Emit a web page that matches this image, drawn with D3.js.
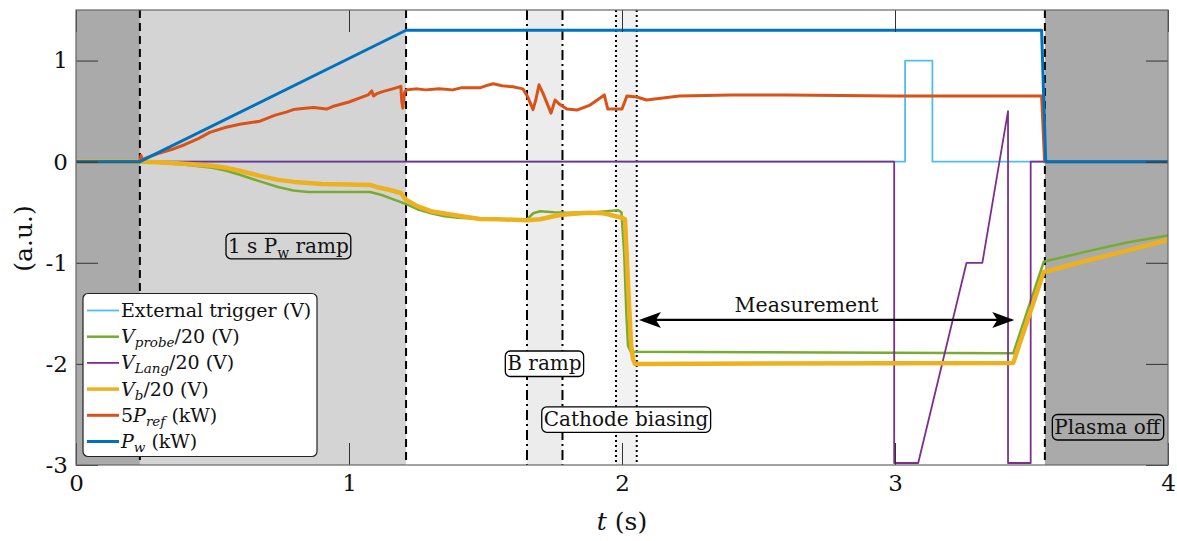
<!DOCTYPE html>
<html><head><meta charset="utf-8">
<script src="https://cdn.jsdelivr.net/npm/d3@7/dist/d3.min.js"></script>
<style>
body{margin:0;background:#fff;}
svg{display:block;}
text{font-family:"DejaVu Serif",serif;fill:#111;}
</style></head><body>
<svg id="c" width="1177" height="541"></svg>
<script>
// ---------- data ----------
const xTicks = [0, 1, 2, 3, 4];
const yTicks = [-3, -2, -1, 0, 1];

// External trigger (V)
const trigT = [0, 3.037, 3.037, 3.137, 3.137, 4];
const trigV = [0, 0, 1, 1, 0, 0];

// V_probe / 20 (V)
const probeT = [0, 0.234, 0.3, 0.4, 0.5, 0.55, 0.6, 0.674, 0.74, 0.796, 0.85, 0.918, 1.0, 1.077, 1.12, 1.16, 1.21, 1.25, 1.3, 1.35, 1.4, 1.5, 1.6, 1.652, 1.675, 1.7, 1.75, 1.8, 1.9, 1.985, 1.998, 2.008, 2.016, 2.022, 2.032, 3.433, 3.545, 3.552, 3.7, 3.85, 4];
const probeV = [0, 0, -0.01, -0.03, -0.06, -0.09, -0.13, -0.195, -0.25, -0.285, -0.3, -0.3, -0.3, -0.3, -0.33, -0.37, -0.42, -0.47, -0.51, -0.54, -0.555, -0.57, -0.575, -0.57, -0.51, -0.49, -0.5, -0.505, -0.5, -0.48, -0.5, -0.9, -1.5, -1.82, -1.88, -1.895, -0.99, -0.985, -0.89, -0.8, -0.73];

// V_Lang / 20 (V)
const langT = [0, 2.997, 2.997, 3.085, 3.262, 3.32, 3.414, 3.414, 3.497, 3.497, 4];
const langV = [0, 0, -2.98, -2.98, -1, -1, 0.5, -2.98, -2.98, 0, 0];

// V_b / 20 (V)
const vbT = [0, 0.234, 0.3, 0.4, 0.5, 0.55, 0.6, 0.674, 0.74, 0.8, 0.9, 1.0, 1.077, 1.1, 1.15, 1.19, 1.21, 1.25, 1.3, 1.4, 1.48, 1.55, 1.652, 1.7, 1.75, 1.78, 1.85, 1.883, 1.93, 1.948, 2.0, 2.011, 2.022, 2.033, 2.04, 2.048, 3.433, 3.545, 3.552, 3.7, 3.85, 4];
const vbV = [0, 0, -0.005, -0.02, -0.04, -0.06, -0.09, -0.14, -0.18, -0.2, -0.22, -0.225, -0.23, -0.25, -0.28, -0.31, -0.38, -0.44, -0.49, -0.535, -0.567, -0.57, -0.58, -0.57, -0.54, -0.525, -0.51, -0.505, -0.51, -0.52, -0.555, -0.57, -1.2, -1.8, -1.95, -2.0, -1.99, -1.09, -1.086, -0.98, -0.88, -0.773];

// 5 P_ref (kW)
const prefT = [0, 0.234, 0.238, 0.243, 0.26, 0.3, 0.35, 0.4, 0.45, 0.49, 0.55, 0.6, 0.674, 0.73, 0.77, 0.796, 0.83, 0.87, 0.918, 0.94, 0.96, 1.0, 1.04, 1.07, 1.083, 1.09, 1.1, 1.12, 1.16, 1.19, 1.193, 1.197, 1.203, 1.21, 1.25, 1.28, 1.33, 1.38, 1.41, 1.45, 1.48, 1.5, 1.528, 1.56, 1.6, 1.637, 1.655, 1.674, 1.685, 1.696, 1.71, 1.74, 1.755, 1.77, 1.798, 1.835, 1.883, 1.92, 1.935, 1.948, 2.0, 2.018, 2.054, 2.09, 2.15, 2.21, 2.4, 2.6, 2.8, 3.0, 3.2, 3.4, 3.537, 3.548, 4];
const prefV = [0, 0, 0.06, 0.02, 0.04, 0.08, 0.12, 0.17, 0.23, 0.29, 0.34, 0.37, 0.4, 0.46, 0.49, 0.515, 0.525, 0.535, 0.52, 0.545, 0.56, 0.59, 0.63, 0.66, 0.7, 0.65, 0.67, 0.69, 0.72, 0.745, 0.6, 0.53, 0.68, 0.71, 0.72, 0.71, 0.72, 0.71, 0.73, 0.73, 0.73, 0.75, 0.77, 0.75, 0.74, 0.72, 0.64, 0.515, 0.62, 0.76, 0.68, 0.48, 0.61, 0.57, 0.52, 0.51, 0.56, 0.63, 0.66, 0.52, 0.52, 0.65, 0.64, 0.61, 0.63, 0.65, 0.66, 0.66, 0.655, 0.65, 0.65, 0.65, 0.65, 0, 0];

// P_w (kW)
const pwT = [0, 0.234, 1.209, 3.537, 3.552, 4];
const pwV = [0, 0, 1.3, 1.3, 0, 0];

// shaded phases (s)
const phaseStart = [0, 3.549, 0.234, 1.652, 1.978];
const phaseEnd   = [0.234, 4, 1.209, 1.782, 2.054];
// event markers (s)
const dashedT  = [0.234, 1.209, 3.549];
const dashDotT = [1.652, 1.782];
const dottedT  = [1.978, 2.054];

// annotations (data coordinates)
const annText = ["1 s P_w ramp", "B ramp", "Cathode biasing", "Plasma off"];
const annT = [0.778, 1.716, 2.015, 3.777];
const annV = [-0.832, -1.996, -2.548, -2.624];
const measText = "Measurement";
const measT = [2.062, 3.437];
const measV = -1.565;

// ---------- drawing ----------
const svg = d3.select("#c");
const x = d3.scaleLinear().domain([0, 4]).range([76, 1168]);
const y = d3.scaleLinear().domain([-3, 1.5]).range([465, 10]);
const TL = 22;
const axCol = "#333";

svg.append("rect").attr("width", 1177).attr("height", 541).attr("fill", "#fff");
svg.append("clipPath").attr("id", "clip").append("rect")
  .attr("x", 76).attr("y", 10).attr("width", 1092).attr("height", 455);
const plot = svg.append("g").attr("clip-path", "url(#clip)");

const phaseFill = ["#aaaaaa", "#aaaaaa", "#d4d4d4", "#ececec", "#f2f2f2"];
plot.selectAll("rect.phase").data(phaseStart).join("rect").attr("class", "phase")
  .attr("x", (d) => x(d)).attr("width", (d, i) => x(phaseEnd[i]) - x(d))
  .attr("y", y(1.5)).attr("height", y(-3) - y(1.5))
  .attr("fill", (d, i) => phaseFill[i]);

function vlines(arr, dash) {
  plot.selectAll(null).data(arr).join("line")
    .attr("x1", (d) => x(d)).attr("x2", (d) => x(d))
    .attr("y1", y(1.5)).attr("y2", y(-3))
    .attr("stroke", "#000").attr("stroke-width", 2).attr("stroke-dasharray", dash);
}
vlines(dashedT, "8,5");
vlines(dashDotT, "10,4,2,4");
vlines(dottedT, "2,3");

const series = [
  { t: trigT, v: trigV, c: "#4DBEEE", w: 1.8 },
  { t: probeT, v: probeV, c: "#77AC30", w: 2.5 },
  { t: langT, v: langV, c: "#7E2F8E", w: 1.8 },
  { t: vbT, v: vbV, c: "#EDB120", w: 4.5 },
  { t: prefT, v: prefV, c: "#D95319", w: 3 },
  { t: pwT, v: pwV, c: "#0072BD", w: 3 },
];
const line = d3.line().x((d) => x(d[0])).y((d) => y(d[1]));
series.forEach((s) => {
  plot.append("path").datum(s.t.map((t, i) => [t, s.v[i]]))
    .attr("d", line).attr("fill", "none").attr("stroke", s.c)
    .attr("stroke-width", s.w).attr("stroke-linejoin", "round");
});

// axes
function styleAxis(g) {
  g.select(".domain").remove();
  g.selectAll(".tick line").attr("stroke", axCol).attr("stroke-width", 1);
  g.selectAll(".tick text").attr("fill", "#222").style("font-size", "23px")
    .style("font-family", '"DejaVu Serif",serif');
}
svg.append("g").attr("transform", "translate(0,465)")
  .call(d3.axisBottom(x).tickValues(xTicks).tickSize(-TL).tickPadding(10).tickFormat((d) => String(d)))
  .call(styleAxis);
svg.append("g").attr("transform", "translate(76,0)")
  .call(d3.axisLeft(y).tickValues(yTicks).tickSize(-TL).tickPadding(8).tickFormat((d) => String(d)))
  .call(styleAxis);
svg.append("g").attr("transform", "translate(0,10)")
  .call(d3.axisTop(x).tickValues(xTicks).tickSize(-TL).tickFormat(""))
  .call(styleAxis);
svg.append("g").attr("transform", "translate(1168,0)")
  .call(d3.axisRight(y).tickValues(yTicks).tickSize(-TL).tickFormat(""))
  .call(styleAxis);
svg.append("rect").attr("x", 76).attr("y", 10).attr("width", 1092).attr("height", 455)
  .attr("fill", "none").attr("stroke", "#666").attr("stroke-width", 1.2);

// axis labels
const xl = svg.append("text").attr("x", 622).attr("y", 530).attr("text-anchor", "middle").style("font-size", "25px");
xl.append("tspan").attr("font-style", "italic").text("t");
xl.append("tspan").text(" (s)");
svg.append("text").attr("transform", "translate(32,238.5) rotate(-90)").attr("text-anchor", "middle")
  .style("font-size", "25px").text("(a.u.)");

// legend
const legRows = [
  [["External trigger (V)", "n"]],
  [["V", "i"], ["probe", "s"], ["/20 (V)", "n"]],
  [["V", "i"], ["Lang", "s"], ["/20 (V)", "n"]],
  [["V", "i"], ["b", "s"], ["/20 (V)", "n"]],
  [["5", "n"], ["P", "i"], ["ref", "s"], [" (kW)", "n"]],
  [["P", "i"], ["w", "s"], [" (kW)", "n"]],
];
const leg = svg.append("g");
leg.append("rect").attr("x", 83).attr("y", 293.5).attr("width", 234).attr("height", 163)
  .attr("rx", 5).attr("fill", "#fff").attr("stroke", "#222").attr("stroke-width", 1.2);
legRows.forEach((row, i) => {
  const cy = 310.5 + i * 26.2;
  const s = series[i];
  leg.append("line").attr("x1", 87).attr("x2", 119).attr("y1", cy).attr("y2", cy)
    .attr("stroke", s.c).attr("stroke-width", Math.min(s.w, 3.5));
  const t = leg.append("text").attr("x", 121).attr("y", cy + 6.5).style("font-size", "19px");
  let sub = false;
  row.forEach(([txt, k]) => {
    const sp = t.append("tspan").text(txt);
    if (k === "i") sp.attr("font-style", "italic");
    if (k === "s") { sp.attr("font-style", "italic").style("font-size", "13.5px").attr("dy", 4); sub = true; }
    else if (sub) { sp.attr("dy", -4); sub = false; }
  });
});

// annotations
const annFill = ["none", "#fff", "#fff", "none"];
annText.forEach((txt, i) => {
  const g = svg.append("g");
  const t = g.append("text").attr("x", x(annT[i])).attr("y", y(annV[i]) + 7)
    .attr("text-anchor", "middle").style("font-size", "20px");
  if (txt.includes("_")) {
    const [a, rest] = txt.split("_");
    t.append("tspan").text(a);
    t.append("tspan").text(rest.split(" ")[0]).style("font-size", "14px").attr("dy", 5);
    t.append("tspan").text(" " + rest.split(" ").slice(1).join(" ")).attr("dy", -5);
  } else t.text(txt);
  const bb = t.node().getBBox();
  g.insert("rect", "text").attr("x", bb.x - 2).attr("y", y(annV[i]) - 12.5)
    .attr("width", bb.width + 4).attr("height", 25.5).attr("rx", 5)
    .attr("fill", annFill[i]).attr("stroke", "#000").attr("stroke-width", 1.3);
});

// measurement arrow
const ax0 = x(measT[0]), ax1 = x(measT[1]), ay = y(measV);
svg.append("line").attr("x1", ax0 + 8).attr("x2", ax1 - 8).attr("y1", ay).attr("y2", ay)
  .attr("stroke", "#000").attr("stroke-width", 2.2);
const head = (tip, dir) => {
  const L = 22, Wd = 8, N = 5;
  return [[tip, ay], [tip + dir * L, ay - Wd], [tip + dir * (L - N), ay], [tip + dir * L, ay + Wd]];
};
[[ax0, 1], [ax1, -1]].forEach(([tip, dir]) => {
  svg.append("polygon").attr("points", head(tip, dir).map((p) => p.join(",")).join(" ")).attr("fill", "#000");
});
svg.append("text").attr("x", (ax0 + ax1) / 2 - 20).attr("y", ay - 8).attr("text-anchor", "middle")
  .style("font-size", "20.5px").text(measText);
</script>
</body></html>
